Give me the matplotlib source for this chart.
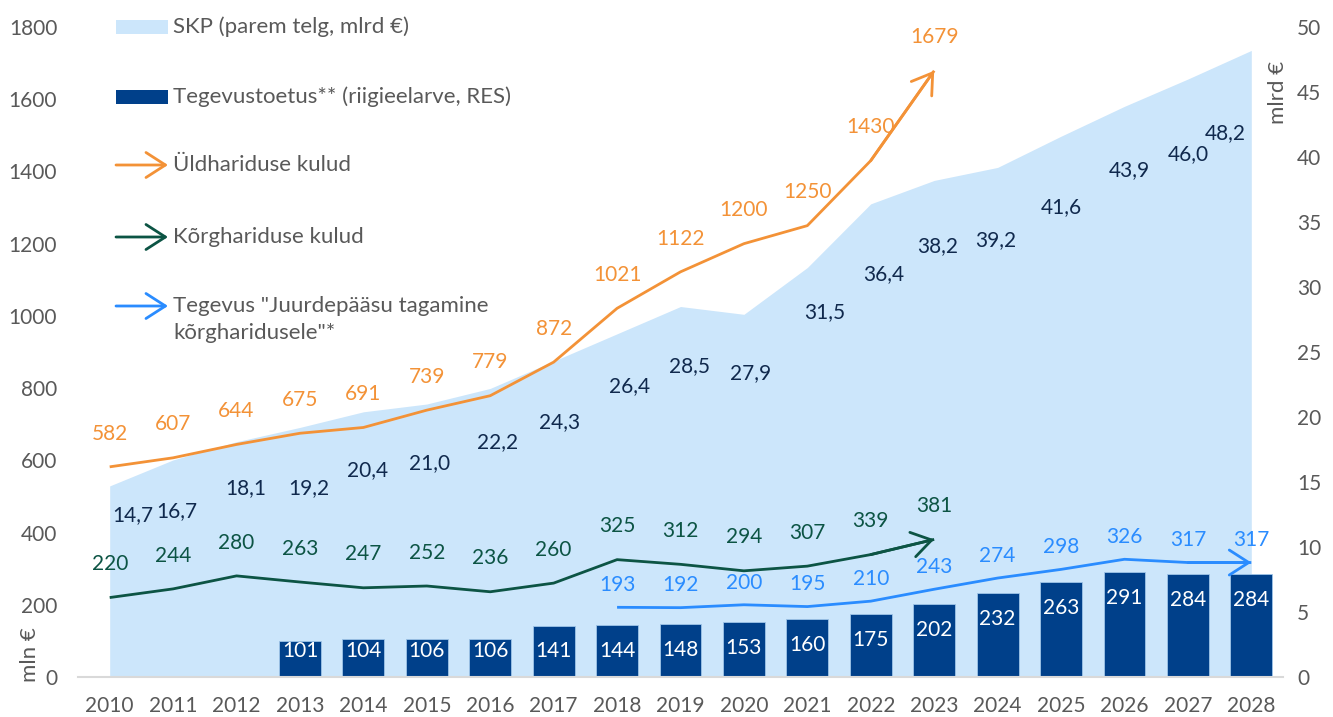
import numpy as np
import matplotlib
matplotlib.use("Agg")
import matplotlib.pyplot as plt
from matplotlib.patches import Rectangle

plt.rcParams['font.family'] = ['Lato', 'DejaVu Sans']

years = [str(y) for y in range(2010, 2029)]

# SKP (right axis, mlrd EUR), 2010-2028
gdp = [14.7, 16.7, 18.1, 19.2, 20.4, 21.0, 22.2, 24.3, 26.4, 28.5, 27.9,
       31.5, 36.4, 38.2, 39.2, 41.6, 43.9, 46.0, 48.2]
# Tegevustoetus bars, 2013-2028
bar_years = [str(y) for y in range(2013, 2029)]
bars = [101, 104, 106, 106, 141, 144, 148, 153, 160, 175, 202, 232, 263, 291, 284, 284]
# Üldhariduse kulud, 2010-2023
gen_years = [str(y) for y in range(2010, 2024)]
general = [582, 607, 644, 675, 691, 739, 779, 872, 1021, 1122, 1200, 1250, 1430, 1679]
# Kõrghariduse kulud, 2010-2023
higher = [220, 244, 280, 263, 247, 252, 236, 260, 325, 312, 294, 307, 339, 381]
# Tegevus "Juurdepääsu tagamine kõrgharidusele", 2018-2028
acc_years = [str(y) for y in range(2018, 2029)]
access = [193, 192, 200, 195, 210, 243, 274, 298, 326, 317, 317]

# label placement for GDP values (right-axis units / x shift)
gdp_lab_y = [12.46, 12.77, 14.54, 14.54, 15.92, 16.46, 18.08, 19.62, 22.38, 23.92,
             23.38, 28.08, 31.0, 33.15, 33.6, 36.15, 39.0, 40.23, 41.85]
gdp_lab_dx = [0.36, 0.06, 0.14, 0.14, 0.06, 0.05, 0.11, 0.09, 0.19, 0.14,
              0.11, 0.27, 0.2, 0.06, -0.03, 0, 0.08, 0, -0.41]

C_AREA = '#cce6fb'
C_BAR = '#00408a'
C_ORANGE = '#f39237'
C_GREEN = '#0c5444'
C_BLUE = '#2a8cff'
C_GDPTXT = '#10294d'
C_TICK = '#595959'
FS = 15

fig = plt.figure(figsize=(13.33, 7.17), dpi=100)
ax = fig.add_axes([0.0585, 0.0558, 0.904, 0.9065])
ax2 = ax.twinx()
ax.set_zorder(ax2.get_zorder() + 1)
ax.patch.set_visible(False)

xi = {y: i for i, y in enumerate(years)}
x_all = np.arange(len(years))

ax2.fill_between(x_all, 0, gdp, color=C_AREA, lw=0)
for i, v in enumerate(gdp):
    ax2.text(i + gdp_lab_dx[i], gdp_lab_y[i], f"{v:.1f}".replace('.', ','),
             ha='center', va='center', fontsize=FS, color=C_GDPTXT)

xb = [xi[y] for y in bar_years]
ax.bar(xb, bars, width=0.66, color=C_BAR, edgecolor='#9fc5e8', linewidth=0.6)
for x, v in zip(xb, bars):
    ax.text(x, max(v - 72, 72), str(v), ha='center', va='center',
            fontsize=FS, color='white')


def arrow_line(xs, vals, color, dy):
    ax.plot(xs, vals, color=color, lw=2.0, solid_capstyle='butt')
    ax.annotate('', xy=(xs[-1], vals[-1]), xytext=(xs[-2], vals[-2]),
                arrowprops=dict(arrowstyle='->,head_length=0.7,head_width=0.45',
                                color=color, lw=2.0, shrinkA=0, shrinkB=0,
                                mutation_scale=20))
    for x, v in zip(xs, vals):
        ax.annotate(str(v), (x, v), xytext=(0, dy), textcoords='offset points',
                    ha='center', va='center', fontsize=FS, color=color)


arrow_line([xi[y] for y in gen_years], general, C_ORANGE, 24)
arrow_line([xi[y] for y in gen_years], higher, C_GREEN, 24)
arrow_line([xi[y] for y in acc_years], access, C_BLUE, 16)

ax.set_xlim(-0.5, 18.5)
ax.set_ylim(0, 1800)
ax2.set_ylim(0, 50)
ax.set_yticks(range(0, 1801, 200))
ax2.set_yticks(range(0, 51, 5))
ax.set_xticks(x_all)
ax.set_xticklabels(years)
ax.tick_params(axis='both', length=0, labelsize=FS, colors=C_TICK)
ax.tick_params(axis='y', pad=15)
ax.tick_params(axis='x', pad=14)
ax2.tick_params(axis='y', length=0, labelsize=FS, colors=C_TICK, pad=10)
for a in (ax, ax2):
    for s in a.spines.values():
        s.set_visible(False)
ax.spines['bottom'].set_visible(True)
ax.spines['bottom'].set_color('#d9d9d9')
ax.spines['bottom'].set_linewidth(1.5)

fig.text(30 / 1333, 1 - 655 / 717, 'mln €', rotation=90, ha='center', va='center',
         fontsize=16, color=C_TICK)
fig.text(1278 / 1333, 1 - 92 / 717, 'mlrd €', rotation=90, ha='center', va='center',
         fontsize=16, color=C_TICK)

# legend drawn in pixel coordinates
lax = fig.add_axes([0, 0, 1, 1])
lax.set_xlim(0, 1333)
lax.set_ylim(717, 0)
lax.axis('off')
lax.add_patch(Rectangle((116, 20), 52, 14, color=C_AREA, lw=0))
lax.add_patch(Rectangle((116, 90), 52, 14, color=C_BAR, lw=0))
for yy, col in [(165, C_ORANGE), (237, C_GREEN), (306, C_BLUE)]:
    lax.annotate('', xy=(168, yy), xytext=(116, yy),
                 arrowprops=dict(arrowstyle='->,head_length=0.7,head_width=0.45',
                                 color=col, lw=2.0, shrinkA=0, shrinkB=0,
                                 mutation_scale=20))
legend_texts = [(27, 'SKP (parem telg, mlrd €)'),
                (97, 'Tegevustoetus** (riigieelarve, RES)'),
                (165, 'Üldhariduse kulud'),
                (237, 'Kõrghariduse kulud'),
                (306, 'Tegevus "Juurdepääsu tagamine'),
                (333, 'kõrgharidusele"*')]
for yy, t in legend_texts:
    lax.text(173, yy, t, ha='left', va='center', fontsize=16, color=C_TICK)

fig.savefig('out.png', dpi=100)
